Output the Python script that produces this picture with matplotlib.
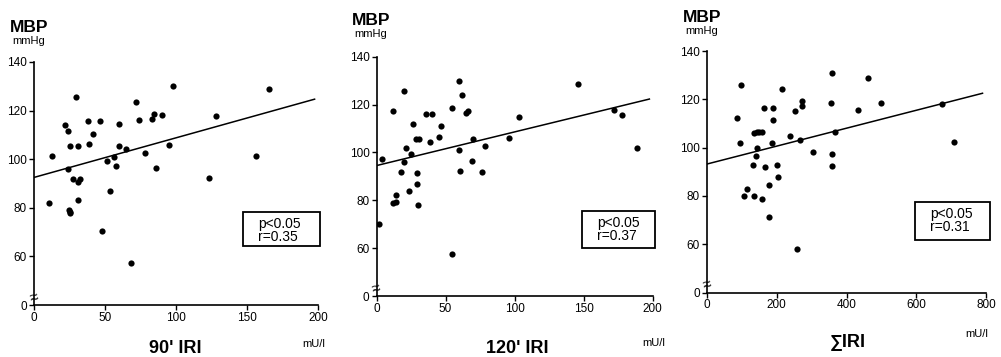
import numpy as np
import matplotlib
matplotlib.use("Agg")
import matplotlib.pyplot as plt

plt.rcParams['font.family'] = ['Liberation Sans', 'DejaVu Sans']

# 90' IRI vs MBP
x90 = [10.6, 13, 21.8, 23.9, 25.3, 29.6, 23.9, 27.3, 30.7, 30.7, 32.5, 30.7,
       24.5, 25, 25.5, 38.3, 39, 41.4, 46.7, 47.9, 51.7, 53.8, 56, 57.9, 59.8,
       60, 65, 68, 72.1, 73.6, 78.2, 83.3, 84.2, 86, 90.3, 95, 97.9, 123.3,
       128.5, 156.6, 165.3]
y90 = [82, 101.3, 114, 111.5, 105.6, 125.4, 96, 91.8, 105.6, 90.8, 91.8, 83.4,
       79.2, 78.4, 77.8, 115.7, 106.1, 110.5, 115.7, 70.4, 99.4, 86.8, 101, 97.3,
       114.3, 105.4, 104.2, 57.4, 123.6, 116.3, 102.4, 116.4, 118.6, 96.5, 118,
       105.8, 130.1, 92.1, 117.9, 101.3, 128.8]

# 120' IRI vs MBP
x120 = [1.7, 3.7, 12.2, 12.2, 14.4, 13.9, 17.8, 19.8, 20, 21.7, 23.2, 25.1,
        26.6, 28.5, 30.7, 29, 29, 30.2, 35.9, 38.5, 40.5, 45.1, 46.8, 54.4,
        54.9, 59.8, 59.8, 60.2, 61.7, 65.1, 66.3, 68.8, 69.8, 76.3, 78.8, 95.9,
        103.4, 146.1, 171.7, 177.6, 188.5]
y120 = [70.2, 97.1, 117.4, 79, 79.3, 82.3, 92, 125.5, 96.1, 101.8, 83.7, 99.3,
        111.7, 105.8, 105.8, 91.4, 86.8, 78.1, 115.9, 104.3, 115.9, 106.3, 110.9,
        118.6, 57.4, 129.9, 101.2, 92.4, 123.9, 116.6, 117.2, 96.6, 105.8, 91.9,
        102.6, 106, 115, 128.7, 117.7, 115.6, 101.8]

# sum IRI vs MBP
xsum = [86.7, 95.4, 98.3, 106, 114.7, 135, 133, 135, 142.6, 149.4, 157.1,
        139.8, 142.6, 159, 165.8, 164.8, 177.3, 177.3, 185, 189.9, 189.9, 200.5,
        203.4, 214, 238, 251.6, 259.3, 266, 272.8, 272.8, 302.7, 354.7, 358.6,
        359.5, 359.5, 368.2, 433.7, 460.7, 499.3, 672.8, 707.5]
ysum = [112.2, 102.1, 125.8, 79.8, 82.9, 80, 92.7, 106.2, 106.3, 106.4, 106.6,
        96.7, 99.9, 78.6, 92, 116.3, 84.5, 71.1, 101.7, 116.3, 111.3, 92.8,
        87.7, 124.2, 105, 115, 58.1, 103, 119.2, 117.3, 98.3, 118.4, 130.7,
        97.4, 92.4, 106.6, 115.5, 129, 118.5, 118, 102.2]

# regression lines: (x start, y start, x end, y end)
line90 = [0, 92.5, 197.6, 124.7]
line120 = [0, 94.5, 197.6, 122.3]
linesum = [0, 93.2, 790, 122.5]

stats = [("p<0.05", "r=0.35"), ("p<0.05", "r=0.37"), ("p<0.05", "r=0.31")]
xnames = ["90' IRI", "120' IRI", "\u2211IRI"]
yticks = [40, 60, 80, 100, 120, 140]
ylabels = ["0", "60", "80", "100", "120", "140"]
xticks_small = [0, 50, 100, 150, 200]
xticks_big = [0, 200, 400, 600, 800]

W, H = 1001, 357
fig = plt.figure(figsize=(W / 100, H / 100), dpi=100)

def fx(px):
    return px / W

def fy(py):
    return 1 - py / H

# axes boxes in pixels: left, right, top, bottom
boxes = [(34, 318, 62, 305), (376.5, 652.7, 56.7, 296), (707, 986, 51, 292.5)]
panels = [(x90, y90, line90, xticks_small, 200),
          (x120, y120, line120, xticks_small, 200),
          (xsum, ysum, linesum, xticks_big, 800)]
# stat box: left, top, right, bottom in pixels
statbox = [(243, 212, 320, 246), (582, 211, 655, 248), (915, 202, 990, 240)]
mbp_pos = [(10, 32), (352, 25), (683, 22)]
name_pos = [(175, 353), (517, 353), (848, 347)]
unit_pos = [(302, 347), (642, 346), (965, 337)]

for i, (xs, ys, ln, xt, xmax) in enumerate(panels):
    l, r, t, b = boxes[i]
    ax = fig.add_axes([fx(l), fy(b), fx(r - l), (b - t) / H])
    ax.scatter(xs, ys, s=20, color='black', zorder=3, linewidths=0)
    ax.plot([ln[0], ln[2]], [ln[1], ln[3]], color='black', lw=1.1)
    ax.set_xlim(0, xmax)
    ax.set_ylim(40, 140)
    for s in ['top', 'right']:
        ax.spines[s].set_visible(False)
    for s in ['left', 'bottom']:
        ax.spines[s].set_linewidth(1.2)
    ax.set_yticks(yticks)
    ax.set_yticklabels(ylabels)
    ax.set_xticks(xt)
    ax.tick_params(direction='out', length=3.5, width=1, pad=1.5,
                   labelsize=8.5, colors='black')
    ax.patch.set_alpha(0)
    # axis break mark
    ax.text(0, 43, "\u2248", fontsize=11, ha='center', va='center',
            rotation=15, clip_on=False)

    # stat box
    bl, bt, br, bb = statbox[i]
    fig.patches.append(plt.Rectangle((fx(bl), fy(bb)), fx(br - bl), (bb - bt) / H,
                                     transform=fig.transFigure, fill=False,
                                     edgecolor='black', lw=1.3))
    p, rr = stats[i]
    fig.text(fx(bl + 15), fy(bt + 16), p, fontsize=10, va='baseline')
    fig.text(fx(bl + 15), fy(bt + 29), rr, fontsize=10, va='baseline')

    mx, my = mbp_pos[i]
    fig.text(fx(mx), fy(my), "MBP", fontsize=12.5, fontweight='bold', va='baseline')
    fig.text(fx(mx + 2), fy(my + 12), "mmHg", fontsize=8, va='baseline')
    nx, ny = name_pos[i]
    fig.text(fx(nx), fy(ny), xnames[i], fontsize=13, fontweight='bold',
             ha='center', va='baseline')
    ux, uy = unit_pos[i]
    fig.text(fx(ux), fy(uy), "mU/l", fontsize=8, va='baseline')

fig.savefig("out.png", dpi=100)
